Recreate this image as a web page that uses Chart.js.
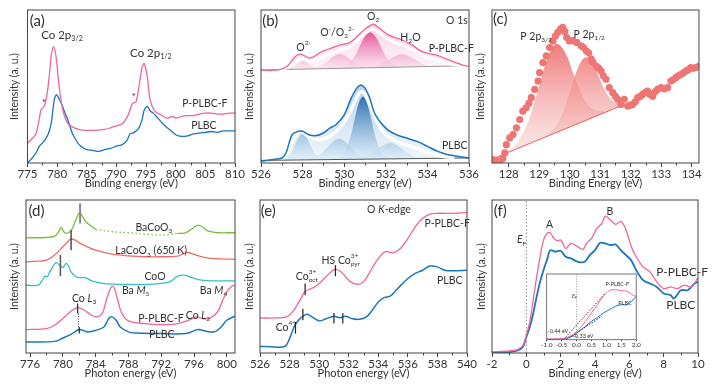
<!DOCTYPE html>
<html>
<head>
<meta charset="utf-8">
<script src="https://cdn.jsdelivr.net/npm/chart.js@4.4.0/dist/chart.umd.min.js"></script>
<style>
body { margin: 0; background: #fff; }
#wrap { position: relative; width: 719px; height: 386px; overflow: hidden; }
canvas { position: absolute; }
</style>
</head>
<body>
<div id="wrap">
<canvas id="ca" width="252" height="190" style="left:0;top:0"></canvas>
<canvas id="cb" width="250" height="190" style="left:236px;top:0"></canvas>
<canvas id="cc" width="249" height="190" style="left:470px;top:0"></canvas>
<canvas id="cd" width="252" height="196" style="left:0;top:190px"></canvas>
<canvas id="ce" width="250" height="196" style="left:236px;top:190px"></canvas>
<canvas id="cf" width="249" height="196" style="left:470px;top:190px"></canvas>
<canvas id="cg" width="105" height="82" style="left:540px;top:268px"></canvas>
</div>
<script>
// ---- (a) Co 2p XPS ----
const aTicks = [775, 780, 785, 790, 795, 800, 805, 810];
const aMinor = [777.5, 782.5, 787.5, 792.5, 797.5, 802.5, 807.5];
const aPPLBCF = [[775,13],[775.8,16],[776.4,19],[776.9,27],[777.3,35],[777.8,37],[778.3,45],[778.7,58],[779.0,70],[779.4,76],[779.8,70],[780.2,55],[780.6,42],[781.0,34],[781.5,28],[782,25],[783,22.8],[784,21.7],[786,21.3],[788,22],[789,23],[790,24.3],[791,25.6],[792,31.5],[792.7,39],[793.3,40],[793.8,50],[794.3,62],[794.7,65],[795.2,56.5],[795.7,41],[796.5,33.7],[797.5,31.5],[798.5,29.3],[799.5,30.4],[800,29.3],[801,30.4],[802,30.9],[803,31],[804,32],[805,32.6],[806,32.6],[807,32],[808,32],[809,32.6],[810,32.6]];
const aPLBC = [[775,0],[775.5,2],[776,4.3],[776.5,7],[777,11],[777.5,13],[778,15.5],[778.5,19],[779,26],[779.5,41],[779.9,44.6],[780.3,42],[780.7,39],[781.1,35],[781.6,30],[782,26],[782.5,20],[783,16.3],[783.5,13],[784,11],[785,8.7],[786,8.3],[787,7.6],[788,8.7],[789,9.5],[790,11],[791,12],[791.8,15],[792.3,19],[793,20],[793.8,23],[794.3,28],[794.7,34.8],[795.2,37],[795.7,34],[796.2,32.6],[797,29.3],[798,25],[799,21.7],[800,18.5],[801,17.4],[802,17.8],[803,19],[804,19.6],[805,20],[806,20.6],[807,20],[808,21],[809,21],[810,21]];

// ---- (b) O 1s XPS ----
const bTicks = [526, 528, 530, 532, 534, 536];
const bMinor = [527, 529, 531, 533, 535];
const bPPLBCF = [[526,60.8],[526.4,60.6],[526.84,60.9],[527.1,62],[527.32,64.1],[527.64,69.5],[527.88,71.1],[528.1,70],[528.36,68.5],[528.65,70.5],[528.92,72.8],[529.25,74.5],[529.57,76.1],[529.9,77.5],[530.21,78.3],[530.45,80.5],[530.69,83.7],[531.0,87.5],[531.2,89.5],[531.41,90.7],[531.6,89],[531.85,86.5],[532.13,83.7],[532.45,82],[532.78,80.4],[533.26,77.2],[533.74,72.8],[534.39,70.6],[535.03,67.4],[535.67,64.1],[536,63]];
const bPinkEnv = [[526.9,61],[527.3,62.5],[527.6,66],[527.9,68.2],[528.2,67.3],[528.5,66.6],[528.9,68.8],[529.4,71.8],[529.9,74.3],[530.3,76.3],[530.7,80.8],[531.0,85],[531.3,87.4],[531.6,86],[532.0,81.8],[532.4,78.8],[532.8,77],[533.3,74],[533.8,70],[534.4,67.2],[535.0,65],[535.6,63.8],[536,63.5]];
const bPinkBase = [[526,60.8],[536,63.6]];
const bPinkO2m = [[527.14,61.3],[527.44,62.1],[527.64,63.6],[527.84,65.6],[528.04,66.7],[528.24,65.6],[528.44,63.6],[528.64,62.1],[528.94,61.4]];
const bPinkO22m = [[528.5,62.2],[528.9,63.8],[529.2,66.5],[529.5,69.7],[529.8,71.3],[530.1,69.7],[530.4,66.5],[530.7,63.8],[531.1,62.2]];
const bPinkO2 = [[529.95,63.1],[530.25,65.4],[530.5,69.8],[530.75,76.3],[531.0,82.7],[531.25,85.4],[531.5,82.7],[531.75,76.3],[532.0,69.8],[532.25,65.4],[532.55,63.1]];
const bPinkH2O = [[531.18,62.9],[531.58,63.8],[531.98,66.1],[532.38,69.4],[532.78,71.1],[533.18,69.4],[533.58,66.1],[533.98,63.8],[534.38,62.9]];
const bPLBC = [[526,1.1],[526.5,2.2],[527,3.3],[527.2,6.5],[527.5,18.5],[527.8,20.7],[528,20.7],[528.3,18.5],[528.6,17.8],[529,19.6],[529.3,22.8],[529.6,25],[530,31.5],[530.3,41.3],[530.6,48.9],[530.8,51],[531,48.9],[531.2,43.5],[531.5,31.5],[532,22.8],[532.5,18.5],[533,16.3],[533.5,14.1],[534,10.9],[534.5,7.6],[535,5.4],[535.5,4.3],[536,3.3]];
const bBlueEnv = [[527.0,3.2],[527.25,6],[527.5,13.5],[527.85,20.8],[528.3,17.5],[528.78,15.2],[529.42,18.5],[529.9,25],[530.3,34],[530.71,45.5],[530.88,46.6],[531.05,43.8],[531.43,32],[531.83,21],[532.47,14.5],[533.28,10.5],[534.08,6.8],[534.72,4.4],[535.3,3.4]];
const bBlueBase = [[526,1.7],[536,3.3]];
const bBlueO2m = [[527.1,2.5],[527.4,5.9],[527.6,10.8],[527.8,16.4],[528.0,19.0],[528.2,16.4],[528.4,10.8],[528.6,5.9],[528.9,2.6]];
const bBlueO22m = [[528.45,3.1],[528.85,5.8],[529.15,9.7],[529.45,13.9],[529.75,15.8],[530.05,13.9],[530.35,9.7],[530.65,5.8],[531.05,3.1]];
const bBlueO2 = [[529.7,3.2],[530.0,6.6],[530.3,17.3],[530.5,28.6],[530.7,39.1],[530.9,43.5],[531.1,39.1],[531.3,28.6],[531.5,17.3],[531.8,6.6],[532.1,3.2]];
const bBlueH2O = [[530.6,3.0],[531.0,4.1],[531.4,7.0],[531.8,11.0],[532.2,13.1],[532.6,11.0],[533.0,7.0],[533.4,4.1],[533.8,3.0]];

// ---- (c) P 2p XPS ----
const cTicks = [128, 129, 130, 131, 132, 133, 134];
const cMinor = [128.5, 129.5, 130.5, 131.5, 132.5, 133.5];
const cPoints = [[127.48,2.2],[127.6,1.5],[127.7,1],[127.8,3],[127.87,6.6],[127.92,12],[128.03,16.4],[128.14,18.6],[128.25,23],[128.36,28.4],[128.46,33.9],[128.57,36.1],[128.66,39],[128.74,42.7],[128.85,48.1],[128.96,53.6],[129.01,59.1],[129.12,65.7],[129.23,70],[129.34,75.5],[129.45,79.8],[129.53,83],[129.61,85.4],[129.7,87.5],[129.77,88.6],[129.84,86],[129.9,82],[129.99,79.8],[130.1,80],[130.23,78.8],[130.37,76.6],[130.45,75.5],[130.54,73.3],[130.62,72],[130.7,68],[130.76,66],[130.87,63.4],[130.95,62],[131.03,60.1],[131.1,57],[131.19,54.7],[131.3,49.2],[131.41,46],[131.5,43.5],[131.57,41.6],[131.68,38.3],[131.79,41.6],[131.9,37.2],[131.98,37.8],[132.06,38.3],[132.15,40],[132.23,42.7],[132.31,43.5],[132.39,44.8],[132.47,46],[132.55,47],[132.63,45],[132.72,43.7],[132.8,46.5],[132.88,48.1],[132.99,49.2],[133.1,48.5],[133.21,49.2],[133.32,53.6],[133.4,54.5],[133.48,55.8],[133.56,57],[133.65,58],[133.73,59],[133.81,60.1],[133.89,61],[133.97,62.4],[134.05,62],[134.14,62.4],[134.24,63.4]];
const cBase = [[127.45,2.6],[131.8,38.3]];
const cP32 = [[127.6,3.5],[127.95,7.5],[128.35,15.4],[128.65,27.7],[128.95,46.9],[129.25,67.4],[129.55,77.8],[129.85,72.3],[130.15,56.7],[130.45,42.5],[130.75,35.1],[131.15,33.8]];
const cP12 = [[129.2,17.6],[129.5,22.9],[129.75,31.8],[130.0,45.9],[130.25,61.2],[130.5,69],[130.75,65.3],[131.0,54.1],[131.25,44.1],[131.5,39.3],[131.8,38.9]];

// ---- (d) Co L-edge XAS ----
const dTicks = [776, 780, 784, 788, 792, 796, 800];
const dMinor = [778, 782, 786, 790, 794, 798];
const dBaCoO3a = [[775.5,75.3],[778,75.5],[779,76.4],[779.5,79.3],[779.8,82],[780.1,79.3],[780.5,78.2],[781,80],[781.5,85.8],[782,91.7],[782.3,90],[782.8,85.8],[783.3,83.6],[784,80.8]];
const dBaCoO3gap = [[784,80.8],[786,79.3],[788,78.6],[790,77.7],[792,77],[794,78.2]];
const dBaCoO3b = [[794,78.2],[794.5,78.2],[795,78.6],[795.5,80.3],[796,82],[796.5,83.6],[797,82.5],[797.5,80.3],[798,79.3],[799,78.6],[800,78.6],[801,78.6]];
const dLaCoO3 = [[775.5,59.6],[777,60],[778,60.7],[779,64],[780,69.4],[780.7,73.4],[781,74.5],[781.5,73.8],[782,72],[783,69.4],[784,67.2],[786,64.6],[788,63.5],[790,62.9],[792,62.9],[794,63.3],[794.7,65],[795.2,65.7],[796,64.4],[797,62.9],[798,61.8],[800,61.4],[801,61.2]];
const dCoO = [[775.5,44.3],[777,44.3],[777.5,47.6],[777.8,50.2],[778.1,49.8],[778.4,53],[778.8,56.8],[779.2,59],[779.6,57.4],[780,55.9],[780.4,58.5],[780.7,56.8],[781,53],[781.5,50.2],[782,49.3],[782.8,49.1],[783.5,47.2],[785,45.4],[788,44.8],[791,45],[793,46.5],[794,50.2],[794.8,50.9],[795.5,49.8],[796.5,48],[798,47.2],[800,47.2],[801,47.2]];
const dPPLBCF = [[775.5,15.3],[778,16],[779,18.1],[780,22.5],[781,27.5],[781.8,29.7],[782.5,28.4],[783.5,24.7],[784.2,23.6],[784.8,25.8],[785.3,34.5],[785.7,41],[786,43.7],[786.3,42.1],[786.7,34.5],[787.2,25.8],[788,21],[790,19.2],[792,18.6],[794,19.2],[795.5,21.8],[796.3,23.6],[797,22.5],[797.8,22.5],[798.5,24.7],[799,28],[799.5,34.5],[800,40],[800.5,43.2],[801,44.3]];
const dPLBC = [[775.5,7.2],[779,7.6],[780,9.8],[781,12.2],[782,15.3],[783,13.8],[784,14.8],[785,17],[785.6,22.5],[786,23.6],[786.5,21.4],[787,17],[788,13.8],[789,13.1],[792,12.7],[795,12.7],[796.5,15.3],[797.5,14.2],[798.5,13.8],[799.3,17],[800,21.4],[801,24]];

// ---- (e) O K-edge XAS ----
const eTicks = [526, 528, 530, 532, 534, 536, 538, 540];
const eMinor = [527, 529, 531, 533, 535, 537, 539];
const ePPLBCF = [[526,22.9],[527,22.9],[527.8,23.6],[528.2,26.9],[528.5,31.2],[528.8,36.2],[529,39.7],[529.3,41.5],[529.7,43.2],[530,45.4],[530.4,49.3],[530.8,53],[531.1,54.6],[531.5,53],[532,47.6],[532.5,45],[533,46.5],[533.5,54.1],[534,61.8],[534.5,66.2],[535,65.5],[535.5,68.3],[536,74.9],[536.5,82.5],[537,88],[537.5,90.8],[538,91.3],[539,91.3],[540,91.7]];
const ePLBC = [[526,4.4],[527,3.9],[527.7,4.4],[528,9.4],[528.3,17],[528.6,21.4],[528.9,24],[529.2,25.3],[529.6,23.1],[530,21],[530.5,22.5],[531,24],[531.4,23.1],[531.8,24],[532.2,22.5],[532.7,22],[533.2,23.6],[533.6,28],[534,33.4],[534.4,36.2],[534.8,37.1],[535.2,41],[535.6,45],[536,48.7],[536.5,52],[537,54.1],[537.5,56.8],[538,56.3],[538.5,54.1],[539,53.7],[540,54.1]];

// ---- (f) valence band ----
const fTicks = [-2, 0, 2, 4, 6, 8, 10];
const fMinor = [-1, 1, 3, 5, 7, 9];
const fPPLBCF = [[-2,0.7],[-1,1.3],[-0.5,2.2],[-0.2,5],[0,11.6],[0.2,20.3],[0.4,34.5],[0.6,49.8],[0.8,62.9],[1.0,73.8],[1.2,78.2],[1.4,78.6],[1.6,74.9],[1.8,73.4],[2.0,73.8],[2.3,68.3],[2.6,71.6],[3.0,69.4],[3.3,67.7],[3.5,71.6],[3.8,74.9],[4.1,81.4],[4.4,84.7],[4.6,89.5],[4.9,86.9],[5.2,84],[5.5,86],[5.8,80.8],[6.1,69.9],[6.4,62.9],[6.8,56.3],[7.2,53],[7.6,46.5],[8.0,42.1],[8.4,43.2],[8.8,42.1],[9.2,44.3],[9.6,43.2],[10,49.1]];
const fPLBC = [[-2,0.2],[-1,0.6],[-0.5,1.7],[-0.2,3.9],[0,10.5],[0.2,17],[0.4,25.8],[0.6,36.7],[0.8,46.5],[1.0,54.1],[1.2,60.7],[1.4,67.2],[1.7,66.2],[2.0,66.8],[2.3,62.9],[2.6,61.8],[3.0,59.6],[3.4,59.6],[3.7,64],[4.0,67.2],[4.3,72],[4.6,71.6],[4.9,70.5],[5.2,70.9],[5.5,67.2],[5.8,64],[6.1,60.7],[6.4,54.1],[6.8,47.6],[7.2,45.4],[7.6,43.2],[8.0,38.9],[8.4,37.8],[8.6,35.6],[9.0,41],[9.4,41],[9.8,45.4],[10,46.5]];
const gTicks = [-1, -0.5, 0, 0.5, 1, 1.5, 2];
const gPPLBCF = [[-1,1],[-0.5,1.5],[-0.3,3.6],[-0.1,8.6],[0.1,16.8],[0.3,28],[0.5,40.6],[0.7,53.3],[0.9,66],[1.1,74.6],[1.3,76.1],[1.5,74.6],[1.7,73.6],[1.9,67.5],[2.0,66]];
const gPLBC = [[-1,0.5],[-0.5,1],[-0.3,2.5],[-0.1,6.6],[0.1,13.7],[0.3,20.3],[0.5,28],[0.7,34],[0.9,40.6],[1.1,45.7],[1.3,50.8],[1.5,53.3],[1.7,53.3],[1.9,60.9],[2.0,66]];
const gFitPink = [[-0.44,0],[0.95,70]];
const gFitBlue = [[-0.33,0],[0.85,36]];

const PINK = '#f0649e', BLUE = '#1b75bb';
const FONT = 'Lato, "Open Sans", sans-serif';
const CLEAR = 'rgba(0,0,0,0)';

Chart.defaults.font.family = FONT;
Chart.defaults.color = '#333';
Chart.defaults.animation = false;

const pts = arr => arr.map(p => ({ x: p[0], y: p[1] }));

function grad(c0, c1, yTop, yBot) {
    return ctx => {
        const ch = ctx.chart;
        if (!ch.chartArea || !ch.scales.y) return c0;
        const y = ch.scales.y;
        const g = ch.ctx.createLinearGradient(0, y.getPixelForValue(yTop), 0, y.getPixelForValue(yBot));
        g.addColorStop(0, c0);
        g.addColorStop(1, c1);
        return g;
    };
}

function line(data, color, extra) {
    return Object.assign({ data: pts(data), borderColor: color, borderWidth: 1.3, pointRadius: 0, fill: false, tension: 0.35 }, extra || {});
}

// filled peak between its points and a baseline dataset
function area(data, target, bg, order) {
    return line(data, CLEAR, { borderWidth: 0, fill: target, backgroundColor: bg, order: order });
}

// rich text: parts = [[text, style]], style n | sub | sup | i | stack ("up|down")
function drawRich(ctx, parts, x, y, size) {
    let cx = x;
    for (const [t, s] of parts) {
        if (s === 'stack') {
            const [up, dn] = t.split('|');
            ctx.font = (size * 0.62) + 'px ' + FONT;
            ctx.fillText(up, cx, y - size * 0.42);
            ctx.fillText(dn, cx, y + size * 0.32);
            cx += Math.max(ctx.measureText(up).width, ctx.measureText(dn).width);
            continue;
        }
        let fs = size, dy = 0, st = '';
        if (s === 'sub') { fs = size * 0.62; dy = size * 0.32; }
        if (s === 'sup') { fs = size * 0.62; dy = -size * 0.42; }
        if (s === 'i') st = 'italic ';
        ctx.font = st + fs + 'px ' + FONT;
        ctx.fillText(t, cx, y + dy);
        cx += ctx.measureText(t).width;
    }
}

const decoCfg = {};

const deco = {
    id: 'deco',
    beforeDraw(chart) {
        const o = decoCfg[chart.canvas.id];
        if (!o || !o.bg) return;
        const a = chart.chartArea, c = chart.ctx;
        c.save();
        c.fillStyle = '#fff';
        c.fillRect(a.left, a.top, a.right - a.left, a.bottom - a.top);
        c.restore();
    },
    afterDatasetsDraw(chart) {
        const o = decoCfg[chart.canvas.id];
        if (!o || !o.marks) return;
        const c = chart.ctx, xs = chart.scales.x, ys = chart.scales.y;
        c.save();
        for (const m of o.marks) {
            c.strokeStyle = m.color || '#222';
            c.lineWidth = m.w || 1.2;
            c.setLineDash(m.dash || []);
            const px = xs.getPixelForValue(m.x);
            c.beginPath();
            c.moveTo(px, ys.getPixelForValue(m.y1));
            c.lineTo(px, ys.getPixelForValue(m.y2));
            c.stroke();
        }
        c.restore();
    },
    afterDraw(chart) {
        const o = decoCfg[chart.canvas.id];
        if (!o) return;
        const c = chart.ctx, a = chart.chartArea, xs = chart.scales.x, ys = chart.scales.y;
        c.save();
        c.strokeStyle = o.frameColor || '#444';
        c.lineWidth = o.frameWidth || 1;
        c.strokeRect(a.left, a.top, a.right - a.left, a.bottom - a.top);
        if (o.minor) {
            c.beginPath();
            for (const v of o.minor) {
                const px = Math.round(xs.getPixelForValue(v)) + 0.5;
                c.moveTo(px, a.bottom);
                c.lineTo(px, a.bottom + 2.5);
            }
            c.stroke();
        }
        c.fillStyle = '#333';
        c.textBaseline = 'middle';
        c.textAlign = 'left';
        for (const l of o.labels || []) {
            drawRich(c, typeof l.p === 'string' ? [[l.p, 'n']] : l.p, xs.getPixelForValue(l.x), ys.getPixelForValue(l.y), l.s || o.size || 11);
        }
        c.restore();
    }
};
Chart.register(deco);

function makePanel(id, p) {
    decoCfg[id] = p.deco;
    return new Chart(document.getElementById(id), {
        type: 'line',
        data: { datasets: p.datasets },
        options: {
            responsive: false,
            animation: false,
            layout: { padding: p.pad },
            plugins: { legend: { display: false }, tooltip: { enabled: false } },
            scales: {
                x: {
                    type: 'linear', min: p.xmin, max: p.xmax,
                    afterBuildTicks: s => { s.ticks = p.ticks.map(v => ({ value: v })); },
                    afterFit: s => { s.height = p.xh; s.paddingLeft = 0; s.paddingRight = 0; },
                    ticks: { font: { size: p.tickSize || 11.5 }, padding: 0, maxRotation: 0, autoSkip: false, color: '#333', callback: p.fmt || (v => v) },
                    grid: { drawOnChartArea: false, tickLength: p.tl || 4, color: '#444' },
                    border: { display: false },
                    title: { display: !!p.xTitle, text: p.xTitle || '', font: { size: 11 }, padding: 0, color: '#333' }
                },
                y: {
                    min: 0, max: 100, display: !!p.yTitle,
                    afterFit: s => { s.width = p.yTitle ? p.yw : 0; s.paddingTop = 0; s.paddingBottom = 0; },
                    ticks: { display: false }, grid: { display: false }, border: { display: false },
                    title: { display: !!p.yTitle, text: p.yTitle || '', font: { size: 10.5 }, padding: 0, color: '#333' }
                }
            }
        }
    });
}

const YT = 'Intensity (a. u.)';

// (a)
makePanel('ca', {
    xmin: 775, xmax: 810, ticks: aTicks, xTitle: 'Binding energy (eV)', yTitle: YT,
    pad: { left: 8, top: 10, right: 17, bottom: 0 }, yw: 19.5, xh: 27,
    datasets: [line(aPPLBCF, PINK, { tension: 0.3 }), line(aPLBC, BLUE, { tension: 0.3 })],
    deco: {
        minor: aMinor, size: 10.5,
        labels: [
            { x: 775.4, y: 92.4, p: '(a)', s: 15 },
            { x: 777.3, y: 83.7, p: [['Co 2p', 'n'], ['3/2', 'sub']], s: 11.5 },
            { x: 792.3, y: 71.7, p: [['Co 2p', 'n'], ['1/2', 'sub']], s: 11.5 },
            { x: 777.4, y: 39.5, p: '*', s: 10 },
            { x: 792.6, y: 43, p: '*', s: 10 },
            { x: 801.1, y: 38.7, p: 'P-PLBC-F' },
            { x: 802.6, y: 24.3, p: 'PLBC' }
        ]
    }
});

// (b)
const pinkFill = grad('rgba(226,72,145,0.95)', 'rgba(250,215,232,0.5)', 86, 61);
const blueFill = grad('rgba(30,100,170,0.92)', 'rgba(215,236,250,0.6)', 44, 2);
const pinkHaze = grad('rgba(240,100,158,0.28)', 'rgba(240,100,158,0.05)', 90, 61);
const blueHaze = grad('rgba(27,117,187,0.30)', 'rgba(27,117,187,0.06)', 50, 2);
makePanel('cb', {
    xmin: 526, xmax: 536, ticks: bTicks, xTitle: 'Binding energy (eV)', yTitle: YT,
    pad: { left: 7, top: 10, right: 17, bottom: 0 }, yw: 18, xh: 27,
    datasets: [
        line(bPinkBase, '#999', { borderWidth: 1, tension: 0, order: 3 }),
        line(bBlueBase, '#555', { borderWidth: 1, tension: 0, order: 3 }),
        area(bPinkO2m, 0, pinkFill, 5),
        area(bPinkO22m, 0, pinkFill, 5),
        area(bPinkO2, 0, pinkFill, 5),
        area(bPinkH2O, 0, pinkFill, 5),
        area(bBlueO2m, 1, blueFill, 5),
        area(bBlueO22m, 1, blueFill, 5),
        area(bBlueO2, 1, blueFill, 5),
        area(bBlueH2O, 1, blueFill, 5),
        area(bPPLBCF, 0, pinkHaze, 9),
        area(bPLBC, 1, blueHaze, 9),
        line(bPinkEnv, '#fff', { borderWidth: 3, order: 2 }),
        line(bBlueEnv, '#fff', { borderWidth: 3.5, order: 2 }),
        line(bPPLBCF, PINK, { order: 0 }),
        line(bPLBC, BLUE, { order: 0, borderWidth: 1.5 })
    ],
    deco: {
        minor: bMinor, size: 10.5,
        labels: [
            { x: 526.06, y: 93, p: '(b)', s: 15 },
            { x: 534.9, y: 93, p: 'O 1s' },
            { x: 527.7, y: 75.5, p: [['O', 'n'], ['2-', 'sup']] },
            { x: 528.85, y: 85, p: [['O', 'n'], ['-', 'sup'], ['/O', 'n'], ['2', 'sub'], ['2-', 'sup']] },
            { x: 531.1, y: 95.6, p: [['O', 'n'], ['2', 'sub']] },
            { x: 532.7, y: 81.7, p: [['H', 'n'], ['2', 'sub'], ['O', 'n']] },
            { x: 534.06, y: 75, p: 'P-PLBC-F' },
            { x: 534.7, y: 11.3, p: 'PLBC' }
        ]
    }
});

// (c)
const salmonFill = grad('rgba(236,104,104,0.9)', 'rgba(250,210,210,0.45)', 80, 3);
makePanel('cc', {
    xmin: 127.45, xmax: 134.24, ticks: cTicks, xTitle: 'Binding Energy (eV)', yTitle: YT,
    pad: { left: 4.6, top: 10, right: 20, bottom: 0 }, yw: 17.4, xh: 27,
    datasets: [
        line(cBase, '#e86060', { borderWidth: 1, tension: 0, order: 3 }),
        area(cP32, 0, salmonFill, 5),
        area(cP12, 0, salmonFill, 5),
        { data: pts(cPoints), showLine: false, pointRadius: 3.6, pointBorderWidth: 0, pointBackgroundColor: '#ef7575', order: 0 }
    ],
    deco: {
        minor: cMinor, size: 10.5,
        labels: [
            { x: 127.48, y: 93.7, p: '(c)', s: 15 },
            { x: 128.38, y: 82.7, p: [['P 2p', 'n'], ['3/2', 'sub']] },
            { x: 130.12, y: 84.2, p: [['P 2p', 'n'], ['1/2', 'sub']] }
        ]
    }
});

// (d)
makePanel('cd', {
    xmin: 775.5, xmax: 801, ticks: dTicks, xTitle: 'Photon energy (eV)', yTitle: YT,
    pad: { left: 8, top: 10, right: 17, bottom: 6 }, yw: 18, xh: 27,
    datasets: [
        line(dBaCoO3a, '#7dbd3a'),
        line(dBaCoO3gap, '#7dbd3a', { borderDash: [1.5, 2.5] }),
        line(dBaCoO3b, '#7dbd3a'),
        line(dLaCoO3, '#ef6b6b'),
        line(dCoO, '#36bfc2'),
        line(dPPLBCF, PINK),
        line(dPLBC, BLUE, { borderWidth: 1.5 })
    ],
    deco: {
        minor: dMinor, size: 10.5,
        marks: [
            { x: 782.1, y1: 97.8, y2: 84.7, color: '#888', w: 2 },
            { x: 781.0, y1: 80.3, y2: 67.2, color: '#333', w: 1.3 },
            { x: 779.7, y1: 64, y2: 50.2, color: '#555', w: 1.5 },
            { x: 781.8, y1: 32.3, y2: 25.8, color: '#222', w: 1.2 },
            { x: 781.9, y1: 25.8, y2: 17, color: '#444', w: 1, dash: [1, 1.5] },
            { x: 782.0, y1: 17, y2: 12.7, color: '#222', w: 1.2 }
        ],
        labels: [
            { x: 775.8, y: 93, p: '(d)', s: 15 },
            { x: 788.85, y: 82, p: [['BaCoO', 'n'], ['3', 'sub']] },
            { x: 786.4, y: 66.6, p: [['LaCoO', 'n'], ['3', 'sub'], [' (650 K)', 'n']] },
            { x: 789.95, y: 50.2, p: 'CoO' },
            { x: 781.1, y: 35.6, p: [['Co ', 'n'], ['L', 'i'], ['3', 'sub']] },
            { x: 787.2, y: 41, p: [['Ba ', 'n'], ['M', 'i'], ['5', 'sub']] },
            { x: 796.7, y: 41, p: [['Ba ', 'n'], ['M', 'i'], ['4', 'sub']] },
            { x: 795.0, y: 24.7, p: [['Co ', 'n'], ['L', 'i'], ['2', 'sub']] },
            { x: 789.2, y: 22.5, p: 'P-PLBC-F' },
            { x: 790.5, y: 12.2, p: 'PLBC' }
        ]
    }
});

// (e)
makePanel('ce', {
    xmin: 526, xmax: 540, ticks: eTicks, xTitle: 'Photon energy (eV)', yTitle: YT,
    pad: { left: 7, top: 10, right: 19, bottom: 6 }, yw: 17, xh: 27,
    datasets: [line(ePPLBCF, PINK), line(ePLBC, BLUE, { borderWidth: 1.5 })],
    deco: {
        minor: eMinor, size: 10.5,
        marks: [
            { x: 529.05, y1: 37.8, y2: 45.4 },
            { x: 531.1, y1: 50.2, y2: 57.4 },
            { x: 528.4, y1: 12.7, y2: 20.3 },
            { x: 528.9, y1: 21.4, y2: 29 },
            { x: 531.0, y1: 19.2, y2: 26.2 },
            { x: 531.6, y1: 19.2, y2: 26.2 }
        ],
        labels: [
            { x: 526.05, y: 93, p: '(e)', s: 15 },
            { x: 533.24, y: 93.9, p: [['O ', 'n'], ['K', 'i'], ['-edge', 'n']] },
            { x: 537.13, y: 84.7, p: 'P-PLBC-F' },
            { x: 537.97, y: 47.6, p: 'PLBC' },
            { x: 530.16, y: 60.3, p: [['HS Co', 'n'], ['3+|pyr', 'stack']] },
            { x: 528.42, y: 50.2, p: [['Co', 'n'], ['3+|oct', 'stack']] },
            { x: 527.06, y: 16.6, p: [['Co', 'n'], ['4+', 'sup']] }
        ]
    }
});

// (f)
makePanel('cf', {
    xmin: -2, xmax: 10, ticks: fTicks, xTitle: 'Binding energy (eV)', yTitle: YT,
    pad: { left: 5.4, top: 10, right: 21, bottom: 6 }, yw: 16.6, xh: 27,
    datasets: [line(fPPLBCF, PINK, { tension: 0.3 }), line(fPLBC, BLUE, { tension: 0.3, borderWidth: 1.8 })],
    deco: {
        minor: fMinor, size: 10.5,
        marks: [{ x: 0, y1: 0, y2: 100, color: '#888', w: 1, dash: [1.5, 2] }],
        labels: [
            { x: -1.9, y: 93, p: '(f)', s: 15 },
            { x: 1.15, y: 83.6, p: 'A' },
            { x: 4.67, y: 92.4, p: 'B' },
            { x: -0.55, y: 73.8, p: [['E', 'i'], ['F', 'sub']] },
            { x: 7.57, y: 53, p: 'P-PLBC-F', s: 12 },
            { x: 8.15, y: 31.2, p: 'PLBC', s: 12 }
        ]
    }
});

// (f) inset
makePanel('cg', {
    xmin: -1, xmax: 2, ticks: gTicks, fmt: v => Number(v).toFixed(1), tickSize: 6.5, tl: 1.5,
    pad: { left: 6.7, top: 6, right: 8.8, bottom: 0 }, xh: 10.3,
    datasets: [
        line(gFitPink, '#7a2030', { borderWidth: 1, borderDash: [1.5, 1.5], tension: 0 }),
        line(gFitBlue, '#202040', { borderWidth: 1, borderDash: [1.5, 1.5], tension: 0 }),
        line(gPPLBCF, PINK, { borderWidth: 1 }),
        line(gPLBC, BLUE, { borderWidth: 1 })
    ],
    deco: {
        bg: true, frameColor: '#555', frameWidth: 0.8, size: 5.5,
        marks: [{ x: 0, y1: 0, y2: 100, color: '#888', w: 0.8, dash: [1, 1.5] }],
        labels: [
            { x: -0.15, y: 66, p: [['E', 'i'], ['F', 'sub']] },
            { x: 0.97, y: 83.8, p: 'P-PLBC-F' },
            { x: 1.4, y: 55.8, p: 'PLBC' },
            { x: -0.97, y: 12.7, p: '-0.44 eV' },
            { x: -0.12, y: 5, p: '-0.33 eV' }
        ]
    }
});
</script>
</body>
</html>
